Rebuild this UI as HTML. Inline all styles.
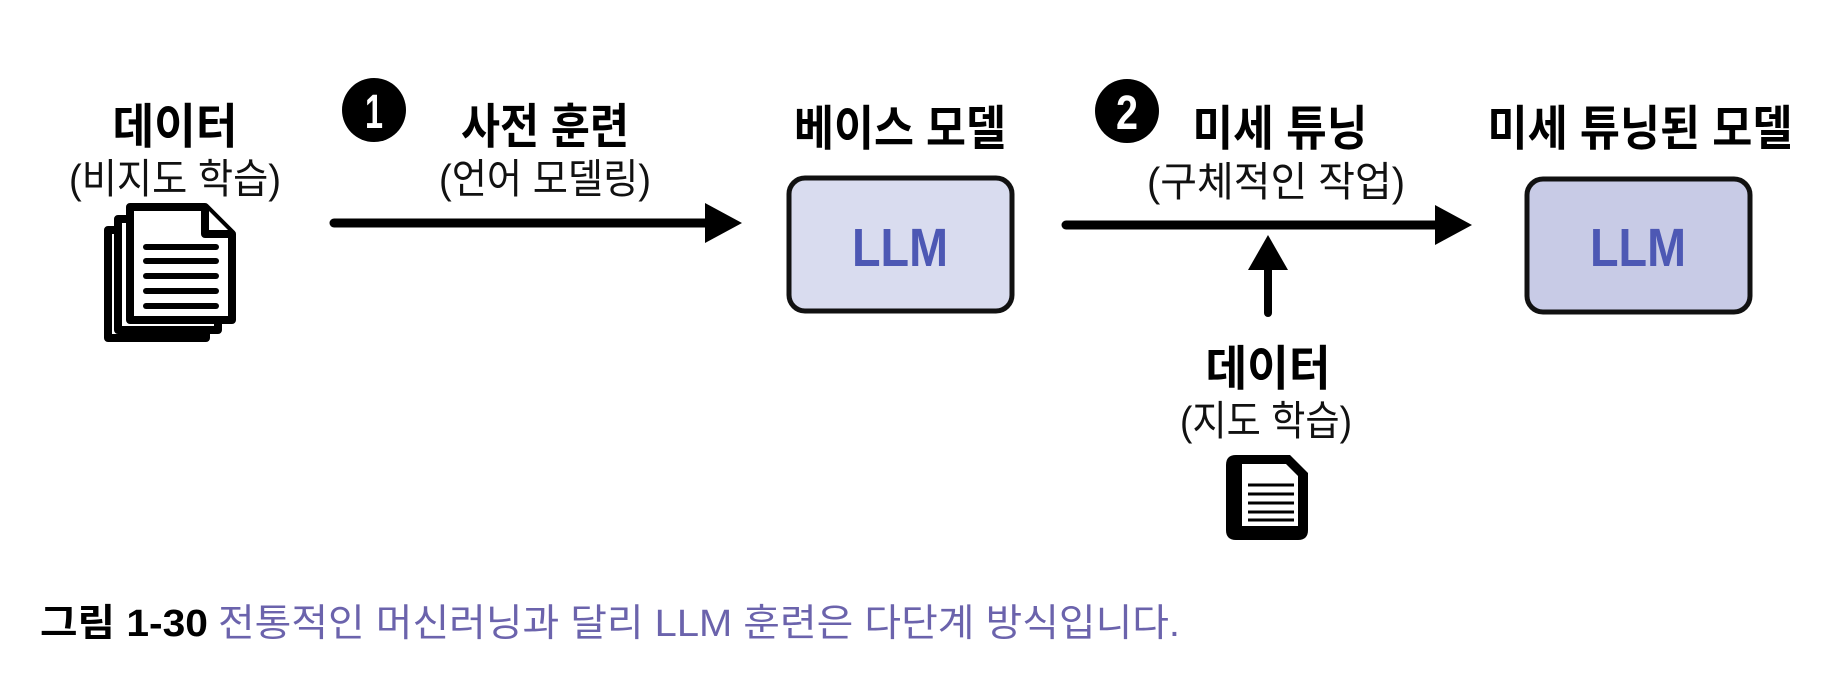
<!DOCTYPE html>
<html><head><meta charset="utf-8"><style>
html,body{margin:0;padding:0;background:#fff;}
svg{display:block;}
text{font-family:"Liberation Sans","Noto Sans CJK KR","NanumGothic",sans-serif;}
.t{font-weight:bold;font-size:48px;fill:#000;}
.s{font-size:41px;fill:#111;}
</style></head><body>
<svg width="1842" height="684" viewBox="0 0 1842 684" xmlns="http://www.w3.org/2000/svg">
<rect width="1842" height="684" fill="#fff"/>
<!-- left data -->
<text class="t" x="175" y="143" text-anchor="middle" textLength="125" lengthAdjust="spacingAndGlyphs">데이터</text>
<text class="s" x="175" y="193" text-anchor="middle" textLength="212" lengthAdjust="spacingAndGlyphs">(비지도 학습)</text>
<!-- doc stack -->
<g stroke="#000" stroke-width="8" fill="#fff" stroke-linejoin="round">
<path d="M108 230 L184 230 L206 252 L206 338 L108 338 Z"/>
<path d="M118 219 L195 219 L218 242 L218 330 L118 330 Z"/>
<path d="M130 207 L205 207 L232 234 L232 320 L130 320 Z"/>
<path d="M205 207 L205 234 L232 234" fill="#fff"/>
</g>
<g stroke="#000" stroke-width="6" stroke-linecap="round">
<line x1="146" y1="247" x2="216" y2="247"/>
<line x1="146" y1="261" x2="216" y2="261"/>
<line x1="146" y1="276" x2="216" y2="276"/>
<line x1="146" y1="291" x2="216" y2="291"/>
<line x1="146" y1="306" x2="216" y2="306"/>
</g>
<!-- circle 1 -->
<circle cx="374" cy="110" r="32" fill="#000"/>
<text x="374" y="128" text-anchor="middle" font-size="48" font-weight="bold" fill="#fff" textLength="18" lengthAdjust="spacingAndGlyphs">1</text>
<text class="t" x="545" y="143" text-anchor="middle" textLength="168" lengthAdjust="spacingAndGlyphs">사전 훈련</text>
<text class="s" x="545" y="193" text-anchor="middle" textLength="212" lengthAdjust="spacingAndGlyphs">(언어 모델링)</text>
<!-- arrow 1 -->
<line x1="334" y1="223" x2="712" y2="223" stroke="#000" stroke-width="9" stroke-linecap="round"/>
<polygon points="705,203 742,223 705,243" fill="#000"/>
<!-- base model -->
<text class="t" x="900" y="145" text-anchor="middle" textLength="212" lengthAdjust="spacingAndGlyphs">베이스 모델</text>
<rect x="789" y="178" width="223" height="133" rx="16" fill="#d9dcef" stroke="#111" stroke-width="5"/>
<text x="900" y="266" text-anchor="middle" font-size="54" font-weight="bold" fill="#4d58b4" textLength="96" lengthAdjust="spacingAndGlyphs">LLM</text>
<!-- circle 2 -->
<circle cx="1127" cy="111" r="32" fill="#000"/>
<text x="1127" y="129" text-anchor="middle" font-size="48" font-weight="bold" fill="#fff" textLength="22" lengthAdjust="spacingAndGlyphs">2</text>
<text class="t" x="1280" y="145" text-anchor="middle" textLength="175" lengthAdjust="spacingAndGlyphs">미세 튜닝</text>
<text class="s" x="1276" y="196" text-anchor="middle" textLength="258" lengthAdjust="spacingAndGlyphs">(구체적인 작업)</text>
<!-- arrow 2 -->
<line x1="1066" y1="225" x2="1440" y2="225" stroke="#000" stroke-width="9" stroke-linecap="round"/>
<polygon points="1435,205 1472,225 1435,245" fill="#000"/>
<!-- up arrow -->
<line x1="1268" y1="262" x2="1268" y2="313" stroke="#000" stroke-width="8" stroke-linecap="round"/>
<polygon points="1248,270 1268,235 1288,270" fill="#000"/>
<!-- fine tuned model -->
<text class="t" x="1640" y="145" text-anchor="middle" textLength="305" lengthAdjust="spacingAndGlyphs">미세 튜닝된 모델</text>
<rect x="1527" y="179" width="223" height="133" rx="16" fill="#c8cbe6" stroke="#111" stroke-width="5"/>
<text x="1638" y="266" text-anchor="middle" font-size="54" font-weight="bold" fill="#4d58b4" textLength="96" lengthAdjust="spacingAndGlyphs">LLM</text>
<!-- bottom data -->
<text class="t" x="1268" y="385" text-anchor="middle" textLength="125" lengthAdjust="spacingAndGlyphs">데이터</text>
<text class="s" x="1266" y="435" text-anchor="middle" textLength="172" lengthAdjust="spacingAndGlyphs">(지도 학습)</text>
<!-- small doc -->
<path d="M1236 455 L1290 455 L1308 473 L1308 530 Q1308 540 1298 540 L1236 540 Q1226 540 1226 530 L1226 465 Q1226 455 1236 455 Z" fill="#000"/>
<path d="M1242 464 L1286 464 L1298 476 L1298 526 L1242 526 Z" fill="#fff"/>
<g stroke="#000" stroke-width="3">
<line x1="1248" y1="485" x2="1294" y2="485"/>
<line x1="1248" y1="494" x2="1294" y2="494"/>
<line x1="1248" y1="503" x2="1294" y2="503"/>
<line x1="1248" y1="512" x2="1294" y2="512"/>
<line x1="1248" y1="520" x2="1294" y2="520"/>
</g>
<!-- caption -->
<text x="40" y="636" font-size="38" font-weight="bold" fill="#000" textLength="168" lengthAdjust="spacingAndGlyphs">그림 1-30</text>
<text x="218" y="636" font-size="38" fill="#6b63ac" textLength="962" lengthAdjust="spacingAndGlyphs">전통적인 머신러닝과 달리 LLM 훈련은 다단계 방식입니다.</text>
</svg>
</body></html>
